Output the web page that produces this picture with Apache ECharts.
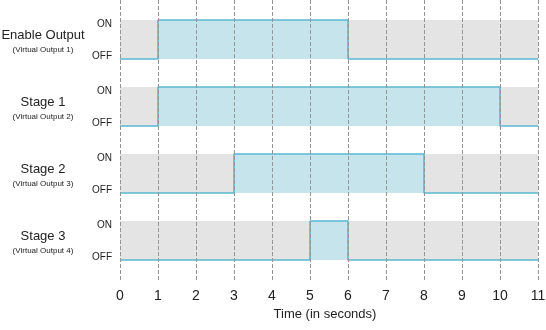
<!DOCTYPE html>
<html>
<head>
<meta charset="utf-8">
<script src="https://cdn.jsdelivr.net/npm/echarts@6/dist/echarts.min.js"></script>
<style>html,body{margin:0;padding:0;background:#fff}#c{width:546px;height:330px}</style>
</head>
<body>
<div id="c"></div>
<script>
// Row titles
const rowTitles = ['Enable Output', 'Stage 1', 'Stage 2', 'Stage 3'];
const rowSubtitles = ['(Virtual Output 1)', '(Virtual Output 2)', '(Virtual Output 3)', '(Virtual Output 4)'];
// State changes: [time, state] (0 = OFF, 1 = ON)
const enableOutput = [[0, 0], [1, 1], [6, 0], [11, 0]];
const stage1 = [[0, 0], [1, 1], [10, 0], [11, 0]];
const stage2 = [[0, 0], [3, 1], [8, 0], [11, 0]];
const stage3 = [[0, 0], [5, 1], [6, 0], [11, 0]];
const rowData = [enableOutput, stage1, stage2, stage3];
// Time tick range
const timeMin = 0, timeMax = 11, timeStep = 1;
const stateLabels = ['OFF', 'ON'];
const xAxisTitle = 'Time (in seconds)';

const FONT = '"Liberation Sans", Arial, sans-serif';
const rowTops = [20, 87, 154, 221];
const rowHeight = 39;

const grids = [], xAxes = [], yAxes = [], series = [];
rowTitles.forEach((t, i) => {
  grids.push({left: 120, right: 8, top: rowTops[i], height: rowHeight, show: true,
    outerBoundsMode: 'none', containLabel: false,
    backgroundColor: '#e4e4e4', borderWidth: 0});
  xAxes.push({gridIndex: i, type: 'value', min: timeMin, max: timeMax, interval: timeStep,
    show: false});
  yAxes.push({gridIndex: i, type: 'value', min: 0, max: 1, interval: 1,
    axisLine: {show: false}, axisTick: {show: false}, splitLine: {show: false},
    axisLabel: {margin: 8, fontSize: 10, color: '#222', fontFamily: FONT,
      customValues: [0.06, 0.88],
      formatter: v => v > 0.5 ? stateLabels[1] : stateLabels[0]},
    name: '{a|' + t + '}\n{b|' + rowSubtitles[i] + '}',
    nameLocation: 'middle', nameRotate: 0, nameGap: 77,
    nameTextStyle: {align: 'center', verticalAlign: 'middle', padding: [4, 0, 0, 0],
      rich: {a: {fontSize: 13, color: '#222', fontFamily: FONT, lineHeight: 16, align: 'center'},
             b: {fontSize: 8, color: '#222', fontFamily: FONT, lineHeight: 13, align: 'center'}}}
  });
  series.push({type: 'line', xAxisIndex: i, yAxisIndex: i, data: rowData[i], step: 'end',
    symbol: 'none', clip: false, silent: true, z: 2,
    lineStyle: {color: '#5ab8d2', width: 1.6},
    areaStyle: {color: '#c5e4ec', opacity: 1}});
});

// overlay grid for the dashed time gridlines and the time axis
grids.push({left: 120, right: 8, top: 0, bottom: 48, outerBoundsMode: 'none', containLabel: false});
xAxes.push({gridIndex: 4, type: 'value', min: timeMin, max: timeMax, interval: timeStep, z: 10,
  axisLine: {show: false}, axisTick: {show: false},
  splitLine: {show: true, lineStyle: {color: '#959595', width: 1, type: [4, 2]}},
  axisLabel: {margin: 7, fontSize: 14, color: '#222', fontFamily: FONT},
  name: xAxisTitle, nameLocation: 'middle', nameGap: 24,
  nameTextStyle: {fontSize: 13, color: '#222', fontFamily: FONT, padding: [0, 8, 0, 0]}});
yAxes.push({gridIndex: 4, type: 'value', min: 0, max: 1, show: false});

const chart = echarts.init(document.getElementById('c'), null, {renderer: 'canvas'});
chart.setOption({animation: false, backgroundColor: '#fff', grid: grids, xAxis: xAxes, yAxis: yAxes, series: series});
</script>
</body>
</html>
